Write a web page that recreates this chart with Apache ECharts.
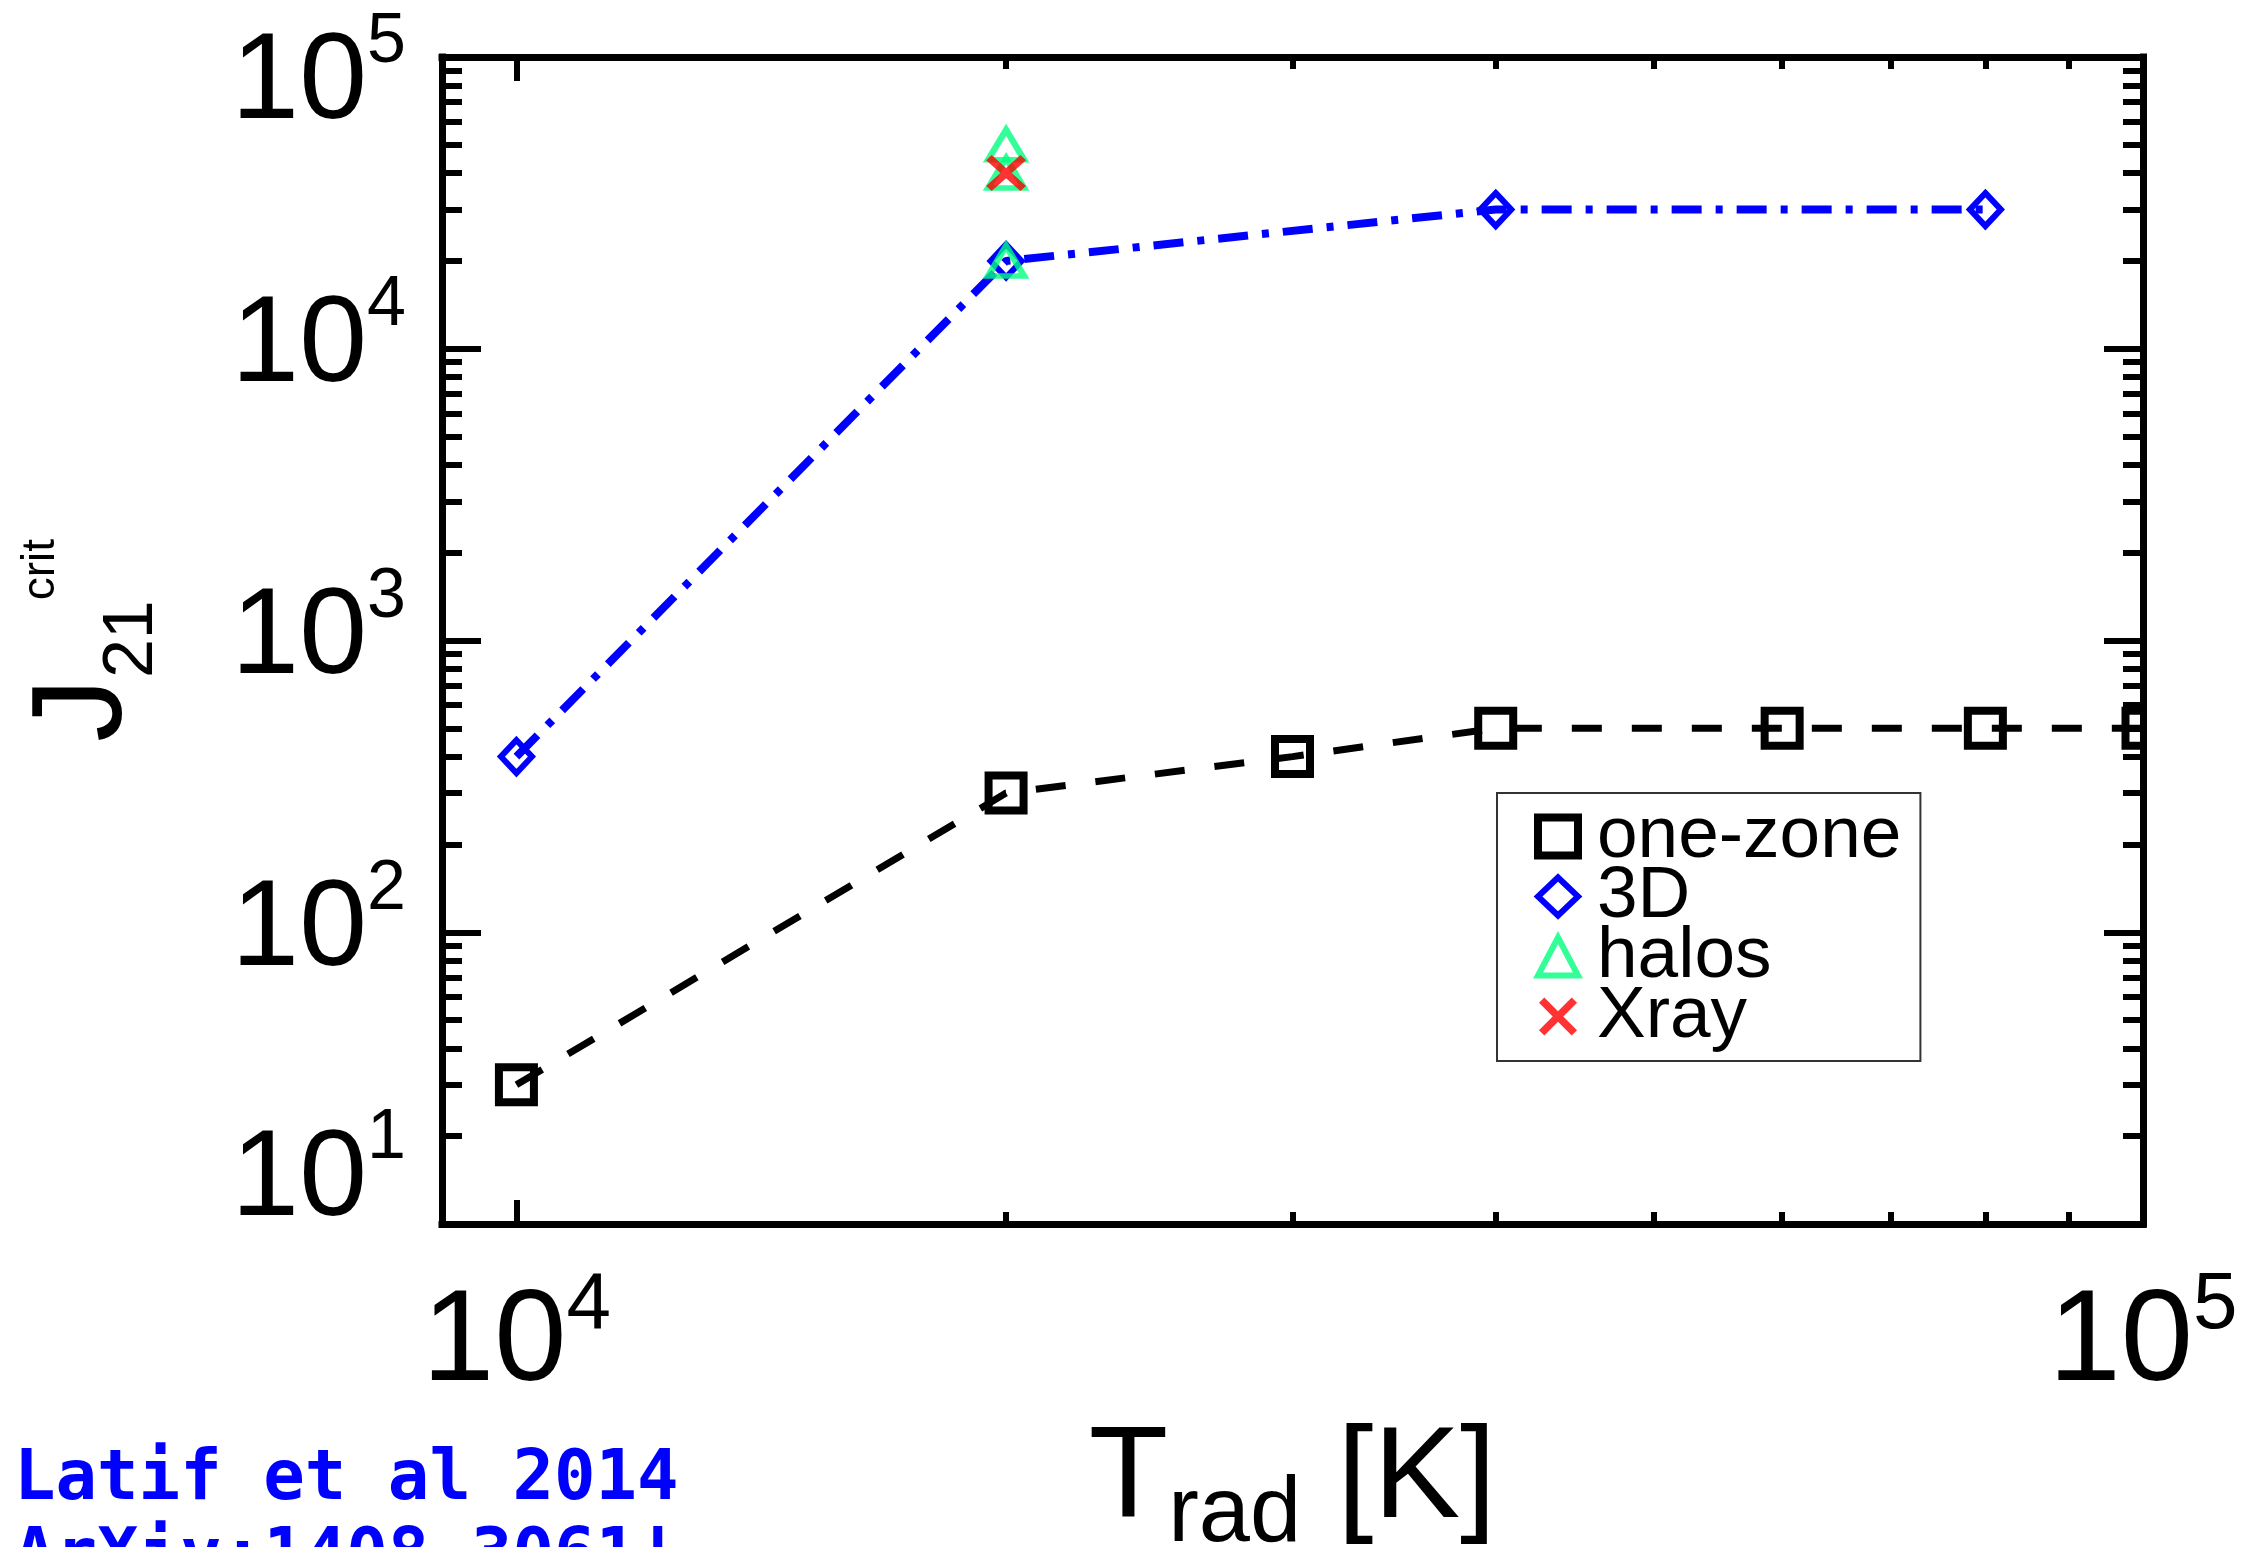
<!DOCTYPE html>
<html><head><meta charset="utf-8">
<script src="https://cdn.jsdelivr.net/npm/echarts@6/dist/echarts.min.js"></script>
<style>html,body{margin:0;padding:0;background:#fff}#c{width:2252px;height:1547px}</style>
</head><body><div id="c"></div>
<script>
// ---- data ----
const oneZoneT = [10000, 20000, 30000, 40000, 60000, 80000, 100000];
const oneZoneJ = [30, 300, 400, 500, 500, 500, 500];
const threeDT = [10000, 20000, 40000, 80000];
const threeDJ = [400, 20000, 30000, 30000];
const halosT = [20000, 20000, 20000];
const halosJ = [20000, 40000, 50000];
const xrayT = [20000];
const xrayJ = [40000];
const seriesNames = ['one-zone', '3D', 'halos', 'Xray'];
const xMajorTicks = [10000, 100000];
const xMinorTicks = [20000, 30000, 40000, 50000, 60000, 70000, 80000, 90000];
const yMajorTicks = [10, 100, 1000, 10000, 100000];
const yMinorTicks = [20, 30, 40, 50, 60, 70, 80, 90,
  200, 300, 400, 500, 600, 700, 800, 900,
  2000, 3000, 4000, 5000, 6000, 7000, 8000, 9000,
  20000, 30000, 40000, 50000, 60000, 70000, 80000, 90000];
const xRange = [9000, 100000];
const yRange = [10, 100000];
const xTitle = ['T', 'rad', ' [K]'];
const yTitle = ['J', '21', 'crit'];
const noteLines = ['Latif et al 2014', 'ArXiv:1408.3061!'];

const pair = (xs, ys) => xs.map((x, i) => [x, ys[i]]);
const FS = "'Liberation Sans', Arial, sans-serif";
const FN = "'Liberation Sans Narrow', 'Liberation Sans', Arial, sans-serif";
const XPATH = 'path://M0,1.4L1.4,0L5,3.6L8.6,0L10,1.4L6.4,5L10,8.6L8.6,10L5,6.4L1.4,10L0,8.6L3.6,5Z';
const clear = 'rgba(255,255,255,0)';
const exp10 = v => Math.round(Math.log10(v));
// rich token of fixed total height H whose content centre sits at c (from the box top)
const tok = (font, size, lh, H, c) => {
  const pt = Math.round(c - lh / 2);
  return { fontFamily: font, fontSize: size, lineHeight: lh, color: '#000', padding: [pt, 0, H - lh - pt, 0] };
};

function axisBase(extra) {
  return Object.assign({
    type: 'log', logBase: 10, gridIndex: 0,
    splitLine: { show: false }, minorTick: { show: false }, minorSplitLine: { show: false },
    axisLine: { show: false }, axisLabel: { show: false }, axisPointer: { show: false },
    silent: true
  }, extra);
}
const axisLine = { show: true, lineStyle: { color: '#000', width: 7, cap: 'square' } };
const tick = (len, vals) => ({ show: true, inside: true, length: len, customValues: vals, lineStyle: { color: '#000', width: 6 } });

const XH = 160, YH = 260, TH = 180, JH = 170;
const xAxes = [
  axisBase({
    position: 'bottom', min: xRange[0], max: xRange[1], axisLine: axisLine,
    axisTick: tick(24, xMajorTicks),
    axisLabel: {
      show: true, customValues: xMajorTicks, margin: 45,
      formatter: v => '{b|10}{s|' + exp10(v) + '}',
      rich: { b: tok(FN, 130, 130, XH, 90), s: tok(FN, 80, 80, XH, 52) }
    },
    name: '{m|' + xTitle[0] + '}{sub|' + xTitle[1] + '}{m|' + xTitle[2] + '}',
    nameLocation: 'middle', nameGap: 219, nameMoveOverlap: false,
    nameTextStyle: { rich: { m: tok(FN, 130, 128, TH, 64), sub: tok(FN, 92, 92, TH, 99) } }
  }),
  axisBase({ position: 'bottom', min: xRange[0], max: xRange[1], axisTick: tick(12, xMinorTicks) }),
  axisBase({ position: 'top', min: xRange[0], max: xRange[1], axisLine: axisLine, axisTick: tick(24, [10000]) }),
  axisBase({ position: 'top', min: xRange[0], max: xRange[1], axisTick: tick(12, xMinorTicks) })
];

const yAxes = [
  axisBase({
    position: 'left', min: yRange[0], max: yRange[1], axisLine: axisLine,
    axisTick: tick(39, yMajorTicks),
    axisLabel: {
      show: true, customValues: yMajorTicks, margin: 36,
      formatter: v => {
        const e = exp10(v);
        if (e === 1) return '{bl|10}{sl|' + e + '}';
        if (e === 5) return '{bh|10}{sh|' + e + '}';
        return '{b|10}{s|' + e + '}';
      },
      rich: {
        b: tok(FS, 122, 122, YH, 129), s: tok(FS, 70, 70, YH, 87),
        bh: tok(FS, 122, 122, YH, 157), sh: tok(FS, 70, 70, YH, 116),
        bl: tok(FS, 122, 122, YH, 87), sl: tok(FS, 70, 70, YH, 45)
      }
    },
    name: '{j|' + yTitle[0] + '}{sub|' + yTitle[1] + '}{sup|' + yTitle[2] + '}',
    nameLocation: 'middle', nameRotate: 90, nameGap: 282, nameMoveOverlap: false,
    nameTextStyle: {
      rich: { j: tok(FS, 128, 128, JH, 75), sub: tok(FN, 70, 70, JH, 122), sup: tok(FS, 46, 46, JH, 30) }
    }
  }),
  axisBase({ position: 'left', min: yRange[0], max: yRange[1], axisTick: tick(20, yMinorTicks) }),
  axisBase({ position: 'right', min: yRange[0], max: yRange[1], axisLine: axisLine, axisTick: tick(39, yMajorTicks) }),
  axisBase({ position: 'right', min: yRange[0], max: yRange[1], axisTick: tick(20, yMinorTicks) })
];

const chart = echarts.init(document.getElementById('c'), null, { renderer: 'canvas' });
chart.setOption({
  animation: false,
  backgroundColor: '#fff',
  grid: { left: 442, right: 109, top: 57, bottom: 323, containLabel: false, outerBoundsMode: 'none' },
  xAxis: xAxes,
  yAxis: yAxes,
  legend: {
    orient: 'vertical', left: 1497, top: 793,
    padding: [7, 19, 8, 37],
    itemWidth: 40, itemHeight: 38, itemGap: -13,
    backgroundColor: '#fff', borderColor: '#333', borderWidth: 2,
    selectedMode: false,
    textStyle: { fontFamily: FS, fontSize: 73, color: '#000', padding: [0, 0, 0, 14] },
    data: [
      { name: seriesNames[0], icon: 'rect', itemStyle: { color: clear, borderColor: '#000', borderWidth: 8 } },
      { name: seriesNames[1], icon: 'diamond', itemStyle: { color: clear, borderColor: '#0000ff', borderWidth: 6 } },
      { name: seriesNames[2], icon: 'triangle', itemStyle: { color: clear, borderColor: '#00ff80', borderWidth: 6 } },
      { name: seriesNames[3], icon: XPATH, itemStyle: { color: '#ff0000', borderWidth: 0 } }
    ]
  },
  series: [
    {
      name: seriesNames[0], type: 'line', xAxisIndex: 0, yAxisIndex: 0,
      data: pair(oneZoneT, oneZoneJ),
      symbol: 'rect', symbolSize: 35, showAllSymbol: true,
      itemStyle: { color: clear, borderColor: '#000', borderWidth: 8 },
      lineStyle: { color: '#000', width: 7, type: [30, 30] },
      emphasis: { disabled: true }, z: 2
    },
    {
      name: seriesNames[1], type: 'line', xAxisIndex: 0, yAxisIndex: 0,
      data: pair(threeDT, threeDJ),
      symbol: 'diamond', symbolSize: [31, 33], showAllSymbol: true,
      itemStyle: { color: clear, borderColor: '#0000ff', borderWidth: 6 },
      lineStyle: { color: '#0000ff', width: 8, type: [30, 14, 7, 14] },
      emphasis: { disabled: true }, z: 3
    },
    {
      name: seriesNames[2], type: 'scatter', xAxisIndex: 0, yAxisIndex: 0,
      data: pair(halosT, halosJ),
      symbol: 'triangle', symbolSize: [36, 30],
      itemStyle: { color: clear, borderColor: '#00ff80', borderWidth: 6 },
      emphasis: { disabled: true }, z: 4
    },
    {
      name: seriesNames[3], type: 'scatter', xAxisIndex: 0, yAxisIndex: 0,
      data: pair(xrayT, xrayJ),
      symbol: XPATH, symbolSize: [40, 36],
      itemStyle: { color: '#ff0000' },
      emphasis: { disabled: true }, z: 5
    }
  ],
  graphic: [
    { type: 'rect', shape: { x: 2147, y: 0, width: 105, height: 1238 }, style: { fill: '#fff' }, z: 100, silent: true },
    { type: 'text', left: 14, top: 1442, z: 100, silent: true,
      style: { text: noteLines.join('\n'), fontFamily: "'DejaVu Sans Mono', monospace", fontWeight: 'bold', fontSize: 69, lineHeight: 78, fill: '#0000ff' } }
  ]
});
</script></body></html>
